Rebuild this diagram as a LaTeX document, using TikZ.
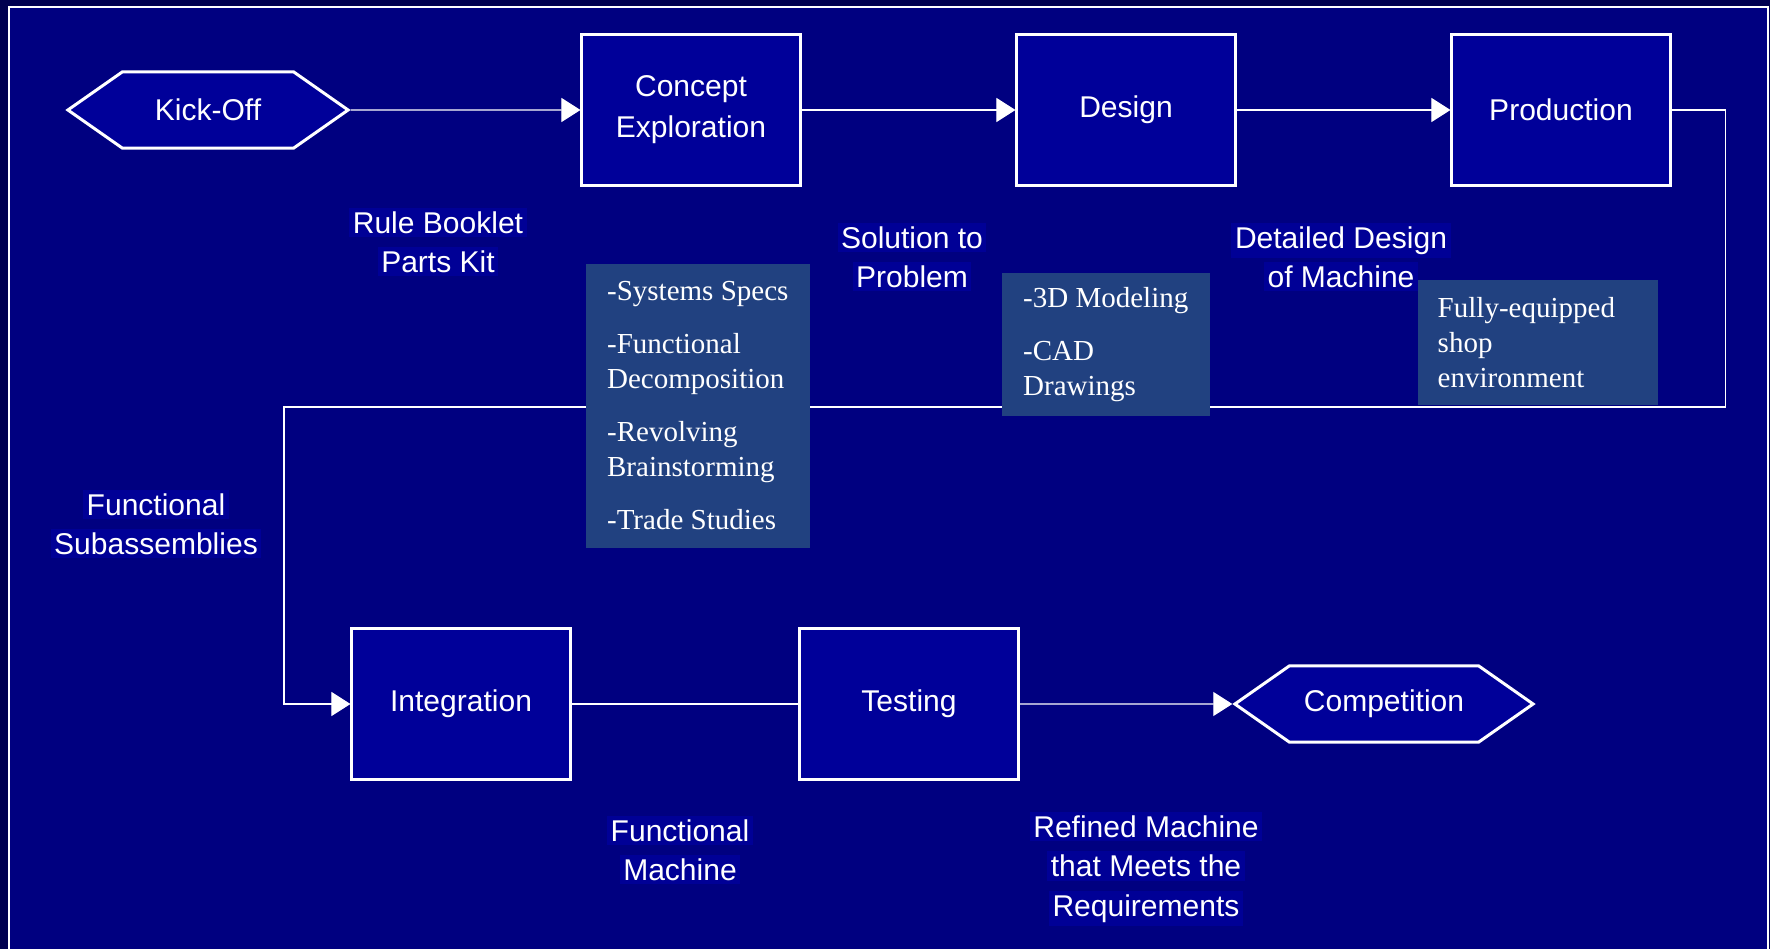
\documentclass[tikz,border=0pt]{standalone}
\usepackage{fontspec}
\setmainfont{Liberation Serif}
\setsansfont{Liberation Sans}
\usetikzlibrary{arrows.meta,shapes.symbols}

\definecolor{deepnavy}{RGB}{0,0,80}
\definecolor{slidenavy}{RGB}{0,0,128}
\definecolor{boxnavy}{RGB}{0,0,153}
\definecolor{hlnavy}{RGB}{0,0,150}
\definecolor{notegrey}{RGB}{33,65,128}

\newcommand{\hl}[1]{{\setlength{\fboxsep}{1pt}\colorbox{hlnavy}{#1}}}

\tikzset{
  stage/.style={draw=white, line width=0.85pt, fill=boxnavy, text=white,
    minimum width=2.18cm, minimum height=1.51cm, align=center,
    font=\sffamily\fontsize{8.54}{11.6}\selectfont},
  hexa/.style={signal, signal to=east and west, signal pointer angle=70,
    draw=white, line width=0.85pt, fill=boxnavy, text=white,
    minimum height=0.76cm, font=\sffamily\fontsize{8.54}{11.2}\selectfont},
  lbl/.style={text=white, align=center, inner sep=0pt,
    font=\sffamily\fontsize{8.54}{11.2}\selectfont},
  note/.style={fill=notegrey, text=white, anchor=north west, align=left,
    inner xsep=0.2cm, font=\rmfamily\fontsize{8.25}{9.96}\selectfont},
  link/.style={draw=white, line width=0.3pt},
  flow/.style={link, -{Triangle[length=0.19cm,width=0.24cm]}}
}

\begin{document}
\begin{tikzpicture}[x=0.01cm, y=-0.01cm]
  \useasboundingbox (0,0) rectangle (1770,949);
  \fill[deepnavy] (0,0) rectangle (1770,949);
  \filldraw[fill=slidenavy, draw=white, line width=0.6pt] (9,7) rectangle (1768,965);

  % top row
  \node[hexa, minimum width=2.8cm] (kickoff) at (208,110) {Kick-Off};
  \node[stage] (concept) at (691,110) {Concept\\Exploration};
  \node[stage] (design) at (1126,110) {Design};
  \node[stage] (production) at (1561,110) {Production};

  % bottom row
  \node[stage] (integration) at (461,704) {Integration};
  \node[stage] (testing) at (909,704) {Testing};
  \node[hexa, minimum width=2.98cm] (competition) at (1384,704) {Competition};

  % outputs
  \node[lbl] (rulekit) at (438,242) {\hl{Rule Booklet}\\\hl{Parts Kit}};
  \node[lbl] (solution) at (912,257) {\hl{Solution to}\\\hl{Problem}};
  \node[lbl] (detailed) at (1341,257) {\hl{Detailed Design}\\\hl{of Machine}};
  \node[lbl] (subassy) at (156,524) {\hl{Functional}\\\hl{Subassemblies}};
  \node[lbl] (funcmach) at (680,850) {\hl{Functional}\\\hl{Machine}};
  \node[lbl] (refined) at (1146,869) {\hl{Refined Machine}\\\hl{that Meets the}\\\hl{Requirements}};

  \coordinate (bendR) at (1725,407);
  \coordinate (bendL) at (284,407);

  \draw[flow] (kickoff) -- (concept);
  \draw[flow] (concept) -- (design);
  \draw[flow] (design) -- (production);
  \draw[flow] (production.east) -| (bendR) -- (bendL) |- (integration.west);
  \draw[link] (integration) -- (testing);
  \draw[flow] (testing) -- (competition);

  % activity notes
  \node[note, minimum width=2.24cm, minimum height=2.84cm] (specs) at (585,263)
    {-Systems Specs\\[0.18cm]-Functional\\Decomposition\\[0.18cm]-Revolving\\Brainstorming\\[0.18cm]-Trade Studies};
  \node[note, minimum width=2.08cm, minimum height=1.43cm] (cad) at (1001,272)
    {-3D Modeling\\[0.18cm]-CAD\\Drawings};
  \node[note, text width=2.0cm, minimum height=1.25cm] (shop) at (1417,279)
    {Fully-equipped\\shop\\environment};
\end{tikzpicture}
\end{document}
